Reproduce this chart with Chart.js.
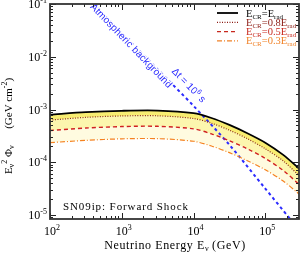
<!DOCTYPE html>
<html><head><meta charset="utf-8">
<script src="https://cdn.jsdelivr.net/npm/chart.js@4.4.0/dist/chart.umd.min.js"></script>
<style>html,body{margin:0;padding:0;background:#fff}#wrap{width:305px;height:254px}</style>
</head><body><div id="wrap"><canvas id="c" width="305" height="254"></canvas></div>
<script>
// Neutrino energy (GeV)
const energies = [100, 316, 1000, 3162, 10000, 17780, 31620, 56230, 100000, 177800, 295000];
// E^2 Phi (GeV cm^-2) for the four cosmic-ray energy fractions
const fluxFull = [8.0e-4, 8.9e-4, 9.45e-4, 9.55e-4, 8.5e-4, 6.9e-4, 5.1e-4, 3.55e-4, 2.35e-4, 1.38e-4, 7.6e-5];
const flux08   = [6.3e-4, 7.1e-4, 7.55e-4, 7.6e-4, 6.75e-4, 5.5e-4, 4.05e-4, 2.8e-4, 1.8e-4, 1.06e-4, 5.6e-5];
const flux05   = [4.0e-4, 4.45e-4, 4.75e-4, 4.8e-4, 4.3e-4, 3.45e-4, 2.55e-4, 1.8e-4, 1.18e-4, 7.0e-5, 3.8e-5];
const flux03   = [2.35e-4, 2.6e-4, 2.78e-4, 2.8e-4, 2.5e-4, 2.03e-4, 1.52e-4, 1.07e-4, 7.2e-5, 4.4e-5, 2.5e-5];
// Atmospheric background (Delta t = 1e6 s)
const atmEnergies = [400, 1000, 3162, 10000, 31620, 100000, 223900];
const atmFlux     = [1e-1, 2.8e-2, 5.75e-3, 1.17e-3, 2.14e-4, 3.16e-5, 8.3e-6];
// ticks
const xTickExps = [2, 3, 4, 5];
const yTickExps = [-1, -2, -3, -4, -5];
const legendFactors = ['', '0.8', '0.5', '0.3'];
const legendColors = ['#000000', '#8b1a12', '#c8281e', '#f08228'];

const SERIF = "'Liberation Serif', 'DejaVu Serif', serif";
const SANS = "'Liberation Sans', Arial, sans-serif";

function toPts(xs, ys){ return xs.map((x,i)=>({x:x, y:ys[i]})); }

function rich(ctx, segs, x, y, align){
  let w = 0;
  segs.forEach(s=>{ ctx.font = (s.bold?'bold ':'')+s.size+'px '+(s.family||SERIF); s.w = ctx.measureText(s.t).width + (s.sp||0)*s.t.length; w += s.w; });
  let cx = align==='right' ? x - w : align==='center' ? x - w/2 : x;
  segs.forEach(s=>{
    ctx.font = (s.bold?'bold ':'')+s.size+'px '+(s.family||SERIF);
    ctx.letterSpacing = (s.sp||0)+'px';
    if (s.halo) { ctx.strokeStyle='#fff'; ctx.lineWidth=2.5; ctx.lineJoin='round'; ctx.strokeText(s.t, cx, y + (s.dy||0)); }
    ctx.fillText(s.t, cx, y + (s.dy||0));
    ctx.letterSpacing = '0px';
    cx += s.w;
  });
  return w;
}

const decor = {
  id: 'decor',
  afterDraw(chart){
    const ctx = chart.ctx, xs = chart.scales.x, ys = chart.scales.y, a = chart.chartArea;
    ctx.save();
    // annotations along the atmospheric line
    const p1x = xs.getPixelForValue(atmEnergies[1]), p1y = ys.getPixelForValue(atmFlux[1]);
    const p2x = xs.getPixelForValue(atmEnergies[4]), p2y = ys.getPixelForValue(atmFlux[4]);
    const ang = Math.atan2(p2y-p1y, p2x-p1x);
    ctx.fillStyle = '#2b2bff';
    ctx.textBaseline = 'middle';
    ctx.save(); ctx.translate(131, 46); ctx.rotate(ang);
    rich(ctx, [{t:'Atmospheric background', size:10, family:SANS, halo:true, sp:0.1}], 0, 0, 'center');
    ctx.restore();
    ctx.save(); ctx.translate(189, 85); ctx.rotate(ang);
    ctx.textBaseline = 'alphabetic';
    rich(ctx, [{t:'\u0394t = 10', size:10, family:SANS, halo:true}, {t:'6', size:7, dy:-4, family:SANS, halo:true}, {t:' s', size:10, family:SANS, halo:true}], 0, 3.5, 'center');
    ctx.restore();

    // ticks
    ctx.strokeStyle = '#222'; ctx.lineWidth = 1;
    ctx.beginPath();
    for (let d = 2; d <= 5; d++) {
      for (let m = 1; m <= 9; m++) {
        const v = m*Math.pow(10,d);
        if (v < xs.min || v > xs.max) continue;
        const px = Math.round(xs.getPixelForValue(v)) + 0.5;
        const L = m===1 ? 6 : 3;
        ctx.moveTo(px, a.bottom); ctx.lineTo(px, a.bottom - L);
        ctx.moveTo(px, a.top); ctx.lineTo(px, a.top + L);
      }
    }
    for (let d = -6; d <= -1; d++) {
      for (let m = 1; m <= 9; m++) {
        const v = m*Math.pow(10,d);
        if (v < ys.min || v > ys.max*1.0001) continue;
        const py = Math.round(ys.getPixelForValue(v)) + 0.5;
        const L = m===1 ? 6 : 3;
        ctx.moveTo(a.left, py); ctx.lineTo(a.left + L, py);
        ctx.moveTo(a.right, py); ctx.lineTo(a.right - L, py);
      }
    }
    ctx.stroke();
    // frame
    ctx.strokeStyle = '#333'; ctx.lineWidth = 1.8;
    ctx.strokeRect(a.left, a.top, a.right - a.left, a.bottom - a.top);

    ctx.fillStyle = '#000';
    ctx.textBaseline = 'alphabetic';
    // y tick labels
    yTickExps.forEach(e=>{
      const py = ys.getPixelForValue(Math.pow(10,e));
      rich(ctx, [{t:'10', size:12}, {t:'-'+(-e), size:8, dy:-5}], 47, py+4, 'right');
    });
    // x tick labels
    xTickExps.forEach(e=>{
      const px = xs.getPixelForValue(Math.pow(10,e));
      rich(ctx, [{t:'10', size:12}, {t:String(e), size:8, dy:-5}], px+2, 235, 'center');
    });
    // x title
    rich(ctx, [{t:'Neutrino Energy E', size:12, sp:0.6}, {t:'\u03bd', size:8, dy:2}, {t:' (GeV)', size:12, sp:0.6}], 175, 249, 'center');
    // y title
    ctx.save();
    ctx.translate(12, 126); ctx.rotate(-Math.PI/2);
    rich(ctx, [{t:'E', size:11}, {t:'\u03bd', size:8, dy:2}, {t:'2', size:8, dy:-5}, {t:' \u03a6', size:11}, {t:'\u03bd', size:8, dy:2},
               {t:'      (GeV cm', size:11}, {t:'-2', size:8, dy:-5}, {t:')', size:11}], 0, 0, 'center');
    ctx.restore();

    // legend
    const styles = [[], [1,1.5], [4,3], [5,2,1,2]];
    const widths = [1.8, 1.2, 1.4, 1.2];
    for (let i = 0; i < 4; i++) {
      const yc = 13 + i*9.3;
      ctx.strokeStyle = legendColors[i]; ctx.lineWidth = widths[i]; ctx.setLineDash(styles[i]);
      ctx.beginPath(); ctx.moveTo(217, yc); ctx.lineTo(238, yc); ctx.stroke();
      ctx.setLineDash([]);
      ctx.fillStyle = legendColors[i];
      rich(ctx, [{t:'E', size:10.5}, {t:'CR', size:7, dy:2}, {t:'='+legendFactors[i]+'E', size:10.5}, {t:'rad', size:7, dy:2}], 246, yc+3.5, 'left');
    }

    // label
    ctx.fillStyle = '#000'; ctx.textAlign = 'left'; ctx.textBaseline = 'alphabetic';
    ctx.font = '11px '+SERIF; ctx.letterSpacing = '0.9px';
    ctx.fillText('SN09ip: Forward Shock', 63, 210);
    ctx.letterSpacing = '0px';
    ctx.restore();
  }
};

new Chart(document.getElementById('c'), {
  type: 'line',
  data: {
    datasets: [
      {data: toPts(energies, fluxFull), borderColor:'#000', borderWidth:1.8, fill:'+1', backgroundColor:'rgba(248,236,105,0.95)'},
      {data: toPts(energies, flux08), borderColor:'#8b2a16', borderWidth:1.2, borderDash:[1,1.5], fill:'+1', backgroundColor:'rgba(252,245,170,0.95)'},
      {data: toPts(energies, flux05), borderColor:'#d02020', borderWidth:1.4, borderDash:[4,3], fill:'+1', backgroundColor:'rgba(255,251,222,0.95)'},
      {data: toPts(energies, flux03), borderColor:'#f58220', borderWidth:1.2, borderDash:[5,2,1,2], fill:false},
      {data: toPts(atmEnergies, atmFlux), borderColor:'#2b2bff', borderWidth:2, borderDash:[3,3], fill:false}
    ]
  },
  options: {
    responsive:false, animation:false, devicePixelRatio:1,
    parsing:false,
    elements:{ point:{radius:0}, line:{tension:0.3} },
    layout:{ padding:{left:50, right:6, top:4, bottom:35} },
    scales:{
      x:{ type:'logarithmic', min:100, max:295000, display:false },
      y:{ type:'logarithmic', min:8.4e-6, max:0.1, display:false }
    },
    plugins:{ legend:{display:false}, tooltip:{enabled:false}, filler:{drawTime:'beforeDatasetsDraw'} }
  },
  plugins:[decor]
});
</script></body></html>
